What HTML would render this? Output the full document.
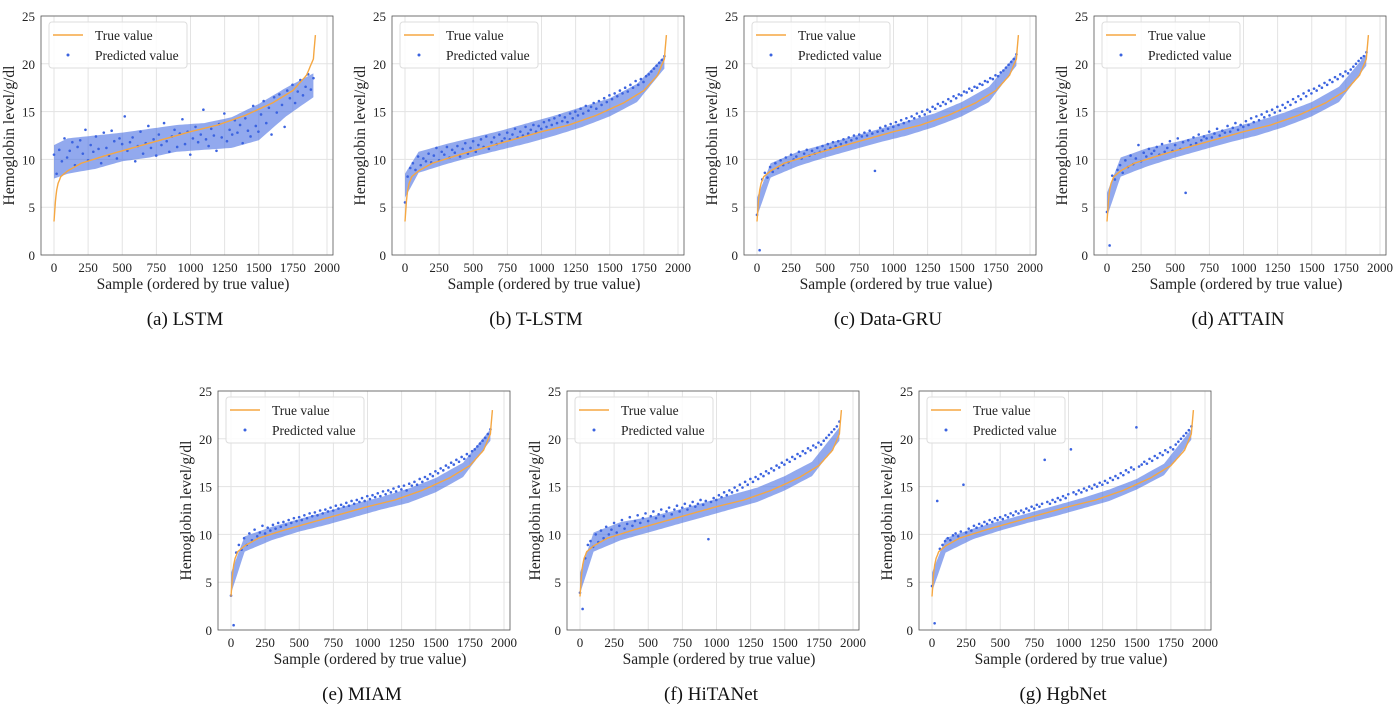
<!DOCTYPE html>
<html><head><meta charset="utf-8"><style>
body{margin:0;background:#fff;}
svg{display:block;font-family:"Liberation Serif",serif;}
</style></head><body>
<svg id="fig" width="1400" height="704"></svg>
<script>
const trueX=[0,10,20,30,50,100,200,400,600,800,1000,1200,1400,1600,1750,1850,1900,1915];
const trueY=[3.5,5.6,6.8,7.5,8.2,8.8,9.6,10.5,11.3,12.1,12.9,13.6,14.6,15.9,17.2,18.8,20.5,23];
const xTicks=[0,250,500,750,1000,1250,1500,1750,2000];
const yTicks=[0,5,10,15,20,25];
const titles=["(a)  LSTM","(b)  T-LSTM","(c)  Data-GRU","(d)  ATTAIN","(e)  MIAM","(f)  HiTANet","(g)  HgbNet"];
const bandX=[0,100,300,500,700,900,1100,1300,1500,1700,1900];
const loLSTM=[8,8.5,9,9.8,10.2,10.8,11,11.2,12,14.5,16.5];
const hiLSTM=[11.5,12.2,12.5,12.8,13.2,13.6,13.8,14.4,15.8,17.5,19];
const loTLSTM=[6,8.6,9.5,10.3,11,11.7,12.5,13.4,14.5,16,19.5];
const hiTLSTM=[8.5,10.8,11.6,12.3,13,13.8,14.6,15.5,16.4,17.9,20.8];
const loGRU=[4,8.1,9.3,10.2,11,11.8,12.5,13.4,14.5,16,19.8];
const hiGRU=[6,9.6,10.8,11.6,12.4,13.2,14,14.8,16,17.6,21];
const loATT=[4,8.2,9.3,10.2,11,11.8,12.5,13.4,14.5,16,19.8];
const hiATT=[6.5,10.2,11.2,11.8,12.5,13.3,14,14.9,16,17.6,21];
const loMIAM=[3.8,8.2,9.4,10.3,11,11.8,12.6,13.3,14.4,16,19.8];
const hiMIAM=[6,9.8,10.8,11.6,12.4,13.2,13.9,14.8,15.9,17.5,21];
const loHiTA=[3.8,8.2,9.4,10.2,11,11.8,12.6,13.4,14.6,16.1,19.8];
const hiHiTA=[6,10.2,11.3,11.8,12.5,13.3,14.1,14.9,16.1,17.6,21.2];
const loHgb=[4,8.1,9.5,10.4,11.2,11.9,12.7,13.5,14.7,16.2,19.9];
const hiHgb=[6,9.6,10.6,11.4,12.2,13,13.8,14.7,15.8,17.4,21];
const los=[loLSTM,loTLSTM,loGRU,loATT,loMIAM,loHiTA,loHgb];
const his=[hiLSTM,hiTLSTM,hiGRU,hiATT,hiMIAM,hiHiTA,hiHgb];
const predLSTM=[10.5,8.5,11,9.8,12.2,10.2,10.9,11.8,9.4,11.3,12,10.6,13.1,9.9,11.5,10.8,12.4,11.1,9.6,12.8,11.2,10.4,13,11.9,10.1,12.2,11.6,14.5,10.9,11.8,12.3,9.8,11.4,12.9,10.6,11.7,13.5,11.2,12.1,10.4,12.6,11.5,13.8,11.9,10.8,12.4,13.1,11.3,12.7,14.2,11.6,12.9,10.5,12.2,13.4,11.8,12.6,15.2,12.1,11.4,13.2,12.5,10.9,13.7,12.3,14.8,11.9,13.1,12.6,14.1,12.8,13.6,11.7,14.3,13,12.4,15.6,13.5,12.9,14.7,16.1,13.8,15.4,12.6,16.5,14.9,16.8,15.7,13.4,17.2,16.4,17.8,15.9,17.1,18.3,16.7,17.6,18.9,17.3,18.5];
const predTLSTM=[5.5,8.2,9.1,9.6,8.9,10.3,9.4,10.1,9.8,10.6,9.7,10.4,11.2,9.9,10.8,10.5,11.3,10.2,11,10.7,11.4,10.3,11.1,11.7,10.6,11.2,11.9,10.8,11.5,12.1,11.3,12.4,11.1,11.8,12.3,11.6,12.6,11.9,12.2,12.8,12.1,12.6,13.2,12.3,12.9,12.5,13.4,12.7,13.1,13.6,12.9,13.5,13.2,13.9,13.4,14.1,13.6,14.3,13.8,14.6,14,14.4,13.9,14.8,14.3,15,14.6,15.3,14.8,15.6,15.1,15.5,15.9,15.3,16.1,15.7,16.4,16,16.7,16.3,16.9,16.6,17.2,16.9,17.5,17.1,17.8,17.5,18.2,17.8,18.4,18.1,18.7,18.9,19.2,19.5,19.8,20.1,20.4,20.8];
const predGRU=[4.2,0.5,7.9,8.6,8.1,9.2,8.7,9.6,9.1,9.9,9.4,10.2,9.7,10.5,10,10.3,10.8,10.1,10.6,11,10.4,10.9,10.6,11.2,10.8,11.4,11,11.6,11.2,11.8,11.4,11.9,11.6,12.1,11.8,12.3,12,12.5,12.2,12.6,12.4,12.8,12.5,13,12.7,8.8,12.9,13.3,13,13.5,13.2,13.7,13.4,13.9,13.6,14.1,13.8,14.3,14,14.5,14.3,14.8,14.5,15,14.7,15.2,15,15.5,15.3,15.8,15.6,16,15.8,16.3,16.1,16.6,16.4,16.8,16.7,17.1,17,17.4,17.2,17.6,17.5,17.9,17.8,18.2,18.1,18.5,18.4,18.8,18.7,19.1,19.3,19.6,19.9,20.2,20.5,21];
const predATTAIN=[4.5,1.0,8.3,7.9,8.9,9.4,8.6,9.9,9.2,10.4,9.5,10.1,11.5,9.8,10.7,10.3,11.1,10.6,10.9,11.3,10.5,11.6,10.8,11.2,11.9,10.9,11.5,12.2,11.1,11.8,6.5,12,11.5,12.3,11.7,12.6,12,12.4,12.2,12.9,12.3,12.7,13.2,12.5,13,12.8,13.5,12.9,13.3,13.8,13.1,13.6,13.4,14,13.6,14.3,13.9,14.5,14.1,14.7,14.4,15,14.6,15.2,14.9,15.5,15.1,15.7,15.4,16,15.7,16.3,16,16.6,16.3,16.9,16.6,17.2,16.9,17.4,17.2,17.7,17.5,18,17.8,18.3,18.1,18.6,18.4,18.9,18.7,19.2,19,19.4,19.7,20,20.3,20.6,20.8,21.2];
const predMIAM=[3.6,0.5,8.1,8.9,8.4,9.6,8.9,10.1,9.4,10.5,9.8,10.2,10.9,10.1,10.7,10.4,11,10.6,11.2,10.8,11.3,11,11.5,11.2,11.7,11.4,11.8,11.5,12,11.7,12.2,11.9,12.3,12,12.5,12.2,12.6,12.4,12.8,12.5,13,12.7,13.1,12.9,13.3,13,13.5,13.2,13.6,13.4,13.8,13.5,14,13.7,14.1,13.9,14.3,14,14.5,14.2,14.6,14.4,14.8,14.5,15,14.7,15.1,14.6,15.3,15.1,15.5,15.2,15.8,15.5,16,15.8,16.3,16.1,16.6,16.4,16.9,16.7,17.2,17,17.5,17.3,17.8,17.6,18.1,17.9,18.4,18.2,18.7,18.9,19.2,19.5,19.8,20.1,20.5,21];
const predHiTA=[3.9,2.2,7.5,8.9,9.3,8.7,10,9.2,10.4,9.6,10.8,10,10.5,11.2,10.2,10.9,11.5,10.6,11.1,11.8,10.9,11.4,12,11.2,11.7,12.2,11.4,11.9,12.4,11.7,12.1,12.6,11.9,12.4,12.8,12.1,12.6,13,12.4,12.8,13.2,12.6,13,13.4,12.9,13.2,13.6,13.1,13.5,9.5,13.4,13.8,13.6,14.1,13.9,14.4,14.1,14.6,14.4,14.9,14.6,15.2,14.9,15.5,15.2,15.8,15.5,16,15.8,16.3,16.1,16.6,16.4,16.9,16.7,17.2,17,17.5,17.3,17.8,17.6,18.1,17.9,18.4,18.2,18.7,18.5,19,18.8,19.3,19.1,19.6,19.4,19.8,20.1,20.4,20.7,21,21.3,21.8];
const predHgb=[4.6,0.7,13.5,8.5,8.9,9.3,9.6,9.4,9.9,10.1,9.8,10.3,15.2,10.2,10.6,10.4,10.9,10.7,11.1,10.9,11.3,11.1,11.5,11.3,11.7,11.5,11.8,11.6,12,11.8,12.2,12,12.4,12.2,12.5,12.3,12.7,12.5,12.9,12.7,13.1,12.9,13.2,17.8,13.4,13.2,13.6,13.4,13.8,13.6,14,13.8,14.2,18.9,14.4,14.2,14.6,14.4,14.8,14.6,15,14.8,15.2,15,15.4,15.2,15.6,15.4,15.9,15.7,16.1,15.9,16.4,16.2,16.7,16.5,17,16.8,21.2,17.1,17.3,17.6,17.4,17.9,17.7,18.2,18,18.5,18.3,18.8,18.6,19.1,18.9,19.4,19.7,20,20.3,20.6,20.9,21.3];
const preds=[predLSTM,predTLSTM,predGRU,predATTAIN,predMIAM,predHiTA,predHgb];
const offsets=[[0,0],[351,0],[703,0],[1053,0],[177,375],[526,375],[878,375]];
const NS="http://www.w3.org/2000/svg";
const svg=document.getElementById('fig');
function mk(tag,attrs,parent,txt){const e=document.createElementNS(NS,tag);for(const k in attrs)e.setAttribute(k,attrs[k]);if(txt!==undefined)e.textContent=txt;parent.appendChild(e);return e;}
function interp(xs,ys,x){for(let i=1;i<xs.length;i++){if(x<=xs[i]){const t=(x-xs[i-1])/(xs[i]-xs[i-1]);return ys[i-1]+t*(ys[i]-ys[i-1]);}}return ys[ys.length-1];}
offsets.forEach((o,p)=>{
  const L=41+o[0],T=16+o[1],W=292,H=239;
  const sx=v=>54+o[0]+v*(273/2000), sy=v=>T+H-v*(H/25);
  const g=mk('g',{},svg);
  
  
  xTicks.forEach(t=>{
    const l=mk('line',{x1:sx(t),x2:sx(t),y1:T,y2:T+H,stroke:'#e3e3e3','stroke-width':1},g);
    
    const tx=mk('text',{x:sx(t),y:T+H+17,'text-anchor':'middle','font-size':13,fill:'#222'},g,String(t));
    
  });
  yTicks.forEach(t=>{
    const l=mk('line',{x1:L,x2:L+W,y1:sy(t),y2:sy(t),stroke:'#e3e3e3','stroke-width':1},g);
    
    const tx=mk('text',{x:L-6,y:sy(t)+5,'text-anchor':'end','font-size':13,fill:'#222'},g,String(t));
    
  });
  const fr=mk('rect',{x:L,y:T,width:W,height:H,fill:'none',stroke:'#555','stroke-width':0.8},g);
  
  let bd='';
  for(let x=0;x<=1900;x+=20){bd+=(x?'L':'M')+sx(x).toFixed(1)+' '+sy(interp(bandX,his[p],x)).toFixed(1);}
  for(let x=1900;x>=0;x-=20){bd+='L'+sx(x).toFixed(1)+' '+sy(interp(bandX,los[p],x)).toFixed(1);}
  const band=mk('path',{d:bd+'Z',fill:'#4a6fe3','fill-opacity':0.6,stroke:'none'},g);
  
  preds[p].forEach((v,i)=>{
    const c=mk('circle',{cx:sx(i*19.2),cy:sy(v),r:1.3,fill:'#3b63e0'},g);
    
  });
  let d='';for(let x=0;x<=1915;x+=5){d+=(x?'L':'M')+sx(x).toFixed(1)+' '+sy(interp(trueX,trueY,x)).toFixed(1);}
  const ln=mk('path',{d:d,fill:'none',stroke:'#f5a742','stroke-width':1.4},g);
  
  const lg=mk('g',{},g);
  
  mk('rect',{x:L+8,y:T+6,width:138,height:46,rx:3,fill:'#fff','fill-opacity':0.85,stroke:'#ddd'},lg);
  mk('line',{x1:L+12,x2:L+42,y1:T+19,y2:T+19,stroke:'#f5a742','stroke-width':1.4},lg);
  mk('text',{x:L+54,y:T+24,'font-size':13.5,fill:'#222'},lg,'True value');
  mk('circle',{cx:L+27,cy:T+39,r:1.5,fill:'#3b63e0'},lg);
  mk('text',{x:L+54,y:T+44,'font-size':13.5,fill:'#222'},lg,'Predicted value');
  const xl=mk('text',{x:L+W/2+6,y:T+H+34,'text-anchor':'middle','font-size':15.5,fill:'#222'},g,'Sample (ordered by true value)');
  
  const yx=L-27,yy=T+H/2;
  const yl=mk('text',{x:yx,y:yy,'text-anchor':'middle','font-size':15.5,fill:'#222',transform:`rotate(-90 ${yx} ${yy})`},g,'Hemoglobin level/g/dl');
  
  const ct=mk('text',{x:L+W/2-2,y:T+H+70,'text-anchor':'middle','font-size':19,fill:'#111'},g,titles[p]);
  
});
</script>
</body></html>
